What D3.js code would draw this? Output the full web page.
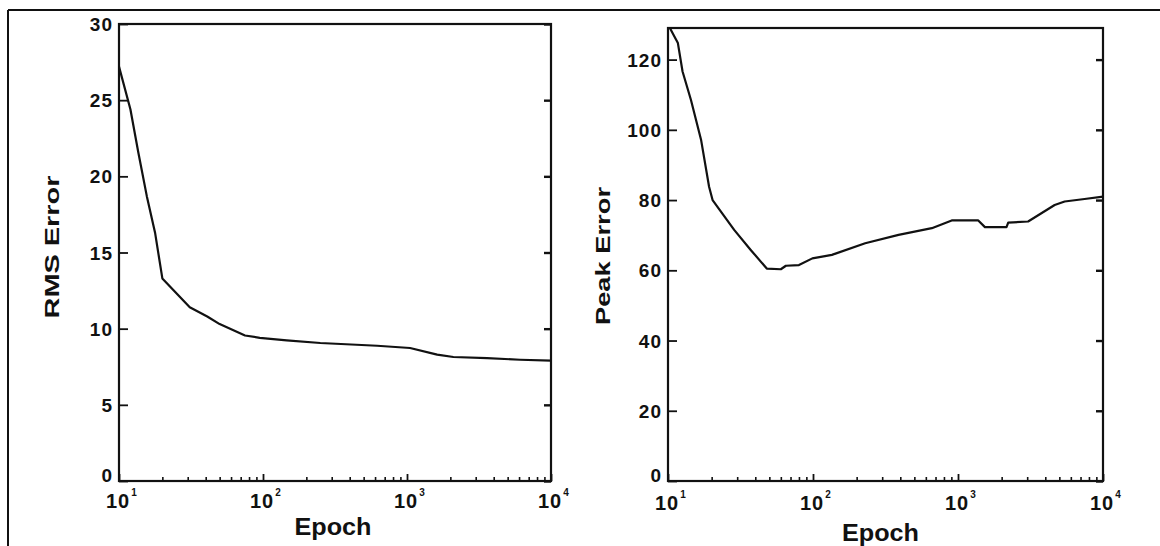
<!DOCTYPE html>
<html>
<head>
<meta charset="utf-8">
<script src="https://cdn.jsdelivr.net/npm/d3@7"></script>
<style>
  body { margin: 0; background: #fff; }
  svg text { font-family: "Liberation Sans", Arial, sans-serif; font-weight: bold; fill: #111; }
</style>
</head>
<body>
<div id="chart"></div>
<script>
// --- data ---
const decadeTicks = [10, 100, 1000, 10000];
const decadeExp = ["1", "2", "3", "4"];
const minorTicks = [20, 30, 40, 50, 60, 70, 80, 90,
                    200, 300, 400, 500, 600, 700, 800, 900,
                    2000, 3000, 4000, 5000, 6000, 7000, 8000, 9000];

const rmsTicks = [0, 5, 10, 15, 20, 25, 30];
const rmsEpoch = [10, 12, 13.6, 15.6, 17.8, 20, 31, 41, 50, 75, 95, 146, 250, 620, 1050, 1620, 2100, 3600, 6100, 10000];
const rmsValue = [27.2, 24.4, 21.6, 18.7, 16.3, 13.3, 11.4, 10.8, 10.3, 9.55, 9.4, 9.23, 9.06, 8.88, 8.73, 8.3, 8.14, 8.07, 7.96, 7.9];

const peakTicks = [0, 20, 40, 60, 80, 100, 120];
const peakEpoch = [10.3, 11.7, 12.6, 14.4, 16.9, 19.2, 20.3, 28.6, 37.2, 48, 60, 65, 80, 99, 135, 229, 389, 660, 905, 1380, 1534, 2160, 2220, 3045, 4640, 5440, 7460, 10000];
const peakValue = [129, 124.7, 116.6, 108.5, 97.2, 83.8, 80, 71.5, 65.8, 60.5, 60.3, 61.3, 61.5, 63.4, 64.4, 67.7, 70.1, 72, 74.2, 74.2, 72.3, 72.3, 73.6, 73.9, 78.6, 79.6, 80.3, 81];

const W = 1160, H = 546;

const svg = d3.select("#chart")
  .append("svg")
  .attr("width", W)
  .attr("height", H);

// outer frame of the scanned figure (top and left edges only)
svg.append("line").attr("x1", 8).attr("x2", W).attr("y1", 10).attr("y2", 10)
  .attr("stroke", "#111").attr("stroke-width", 2);
svg.append("line").attr("x1", 8).attr("x2", 8).attr("y1", 10).attr("y2", H)
  .attr("stroke", "#111").attr("stroke-width", 2);

function drawPanel(p) {
  const x = d3.scaleLog().domain([10, 10000]).range([p.left, p.right]);
  const y = d3.scaleLinear().domain([0, p.ymax]).range([p.bottom, p.top]);

  const g = svg.append("g");

  // minor x ticks (inside)
  g.append("g")
    .attr("transform", `translate(0,${p.bottom})`)
    .call(d3.axisBottom(x).tickValues(minorTicks).tickSize(-4).tickFormat(""))
    .call(a => a.select(".domain").remove())
    .call(a => a.selectAll(".tick line").attr("stroke", "#111").attr("stroke-width", 1.6));

  // decade ticks
  g.append("g")
    .attr("transform", `translate(0,${p.bottom})`)
    .call(d3.axisBottom(x).tickValues(decadeTicks).tickSize(-7).tickFormat(""))
    .call(a => a.select(".domain").remove())
    .call(a => a.selectAll(".tick line").attr("stroke", "#111").attr("stroke-width", 1.8));

  // y ticks left (inside) and right (inside)
  g.append("g")
    .attr("transform", `translate(${p.left},0)`)
    .call(d3.axisLeft(y).tickValues(p.yticks).tickSize(-9).tickFormat(""))
    .call(a => a.select(".domain").remove())
    .call(a => a.selectAll(".tick line").attr("stroke", "#111").attr("stroke-width", 1.8));
  g.append("g")
    .attr("transform", `translate(${p.right},0)`)
    .call(d3.axisRight(y).tickValues(p.yticks).tickSize(-7).tickFormat(""))
    .call(a => a.select(".domain").remove())
    .call(a => a.selectAll(".tick line").attr("stroke", "#111").attr("stroke-width", 2.4));

  // frame
  g.append("rect")
    .attr("x", p.left).attr("y", p.top)
    .attr("width", p.right - p.left).attr("height", p.bottom - p.top)
    .attr("fill", "none").attr("stroke", "#111").attr("stroke-width", 2.2);

  // y labels (the 0 sits a little higher so it clears the 10^1 below it)
  g.selectAll(".ylab")
    .data(p.yticks)
    .enter()
    .append("text")
    .attr("x", p.left - 6)
    .attr("y", d => y(d) + (d === 0 ? 1 : 7))
    .attr("text-anchor", "end")
    .attr("font-size", 19)
    .attr("letter-spacing", 1)
    .text(d => d);

  // x labels: 10 with superscript exponent
  const xl = g.selectAll(".xlab")
    .data(decadeTicks)
    .enter()
    .append("text")
    .attr("x", d => x(d) - 13)
    .attr("y", p.bottom + p.xlabDy)
    .attr("font-size", 20)
    .attr("letter-spacing", 1);
  xl.append("tspan").text("10");
  xl.append("tspan")
    .attr("dy", -12)
    .attr("dx", 1)
    .attr("font-size", 10)
    .text((d, i) => decadeExp[i]);

  // axis titles
  g.append("text")
    .attr("x", (p.left + p.right) / 2 + p.titleDx)
    .attr("y", p.titleY)
    .attr("text-anchor", "middle")
    .attr("font-size", 23)
    .attr("textLength", 77)
    .attr("lengthAdjust", "spacingAndGlyphs")
    .text("Epoch");

  g.append("text")
    .attr("transform", `translate(${p.ylabX},${p.ylabY}) rotate(-90)`)
    .attr("text-anchor", "middle")
    .attr("font-size", 20)
    .attr("textLength", p.ylabLen)
    .attr("lengthAdjust", "spacingAndGlyphs")
    .text(p.ylabel);

  // curve
  const pts = p.epochs.map((e, i) => [e, p.values[i]]);
  g.append("path")
    .datum(pts)
    .attr("fill", "none")
    .attr("stroke", "#111")
    .attr("stroke-width", 2.2)
    .attr("stroke-linejoin", "round")
    .attr("d", d3.line().x(d => x(d[0])).y(d => y(d[1])));
}

drawPanel({
  left: 119, right: 551, top: 24, bottom: 481, ymax: 30,
  yticks: rmsTicks, epochs: rmsEpoch, values: rmsValue,
  xlabDy: 27, titleDx: -2, titleY: 535,
  ylabel: "RMS Error", ylabX: 59, ylabY: 247, ylabLen: 143
});

drawPanel({
  left: 668, right: 1103, top: 28, bottom: 481, ymax: 129,
  yticks: peakTicks, epochs: peakEpoch, values: peakValue,
  xlabDy: 29, titleDx: -5, titleY: 541,
  ylabel: "Peak Error", ylabX: 610, ylabY: 256, ylabLen: 138
});
</script>
</body>
</html>
